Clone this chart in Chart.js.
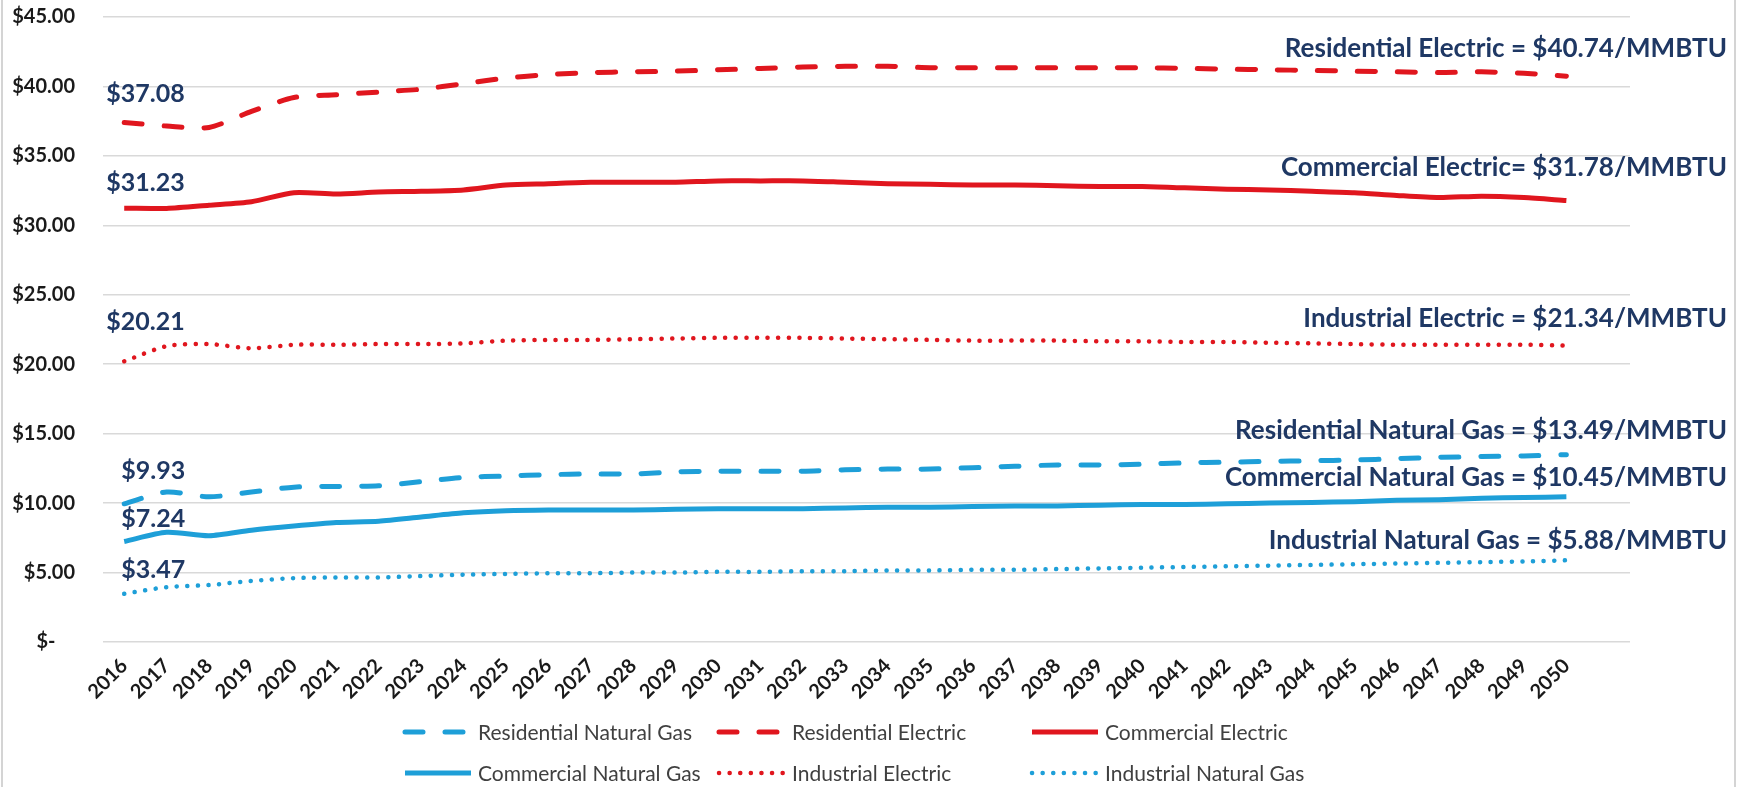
<!DOCTYPE html>
<html>
<head>
<meta charset="utf-8">
<script src="https://cdn.jsdelivr.net/npm/chart.js@4.4.0/dist/chart.umd.min.js"></script>
<style>
  html, body { margin: 0; padding: 0; background: #fff; }
</style>
</head>
<body>
<canvas id="priceChart" width="1748" height="787"></canvas>
<script>
// years on the category axis (last blank slot mirrors the empty space Excel left)
const years = ['2016', '2017', '2018', '2019', '2020', '2021', '2022', '2023', '2024', '2025',
  '2026', '2027', '2028', '2029', '2030', '2031', '2032', '2033', '2034', '2035',
  '2036', '2037', '2038', '2039', '2040', '2041', '2042', '2043', '2044', '2045',
  '2046', '2047', '2048', '2049', '2050', ''];

// $/MMBTU
const residentialGas = [9.95, 10.8, 10.45, 10.8, 11.15, 11.2, 11.25, 11.55, 11.85, 11.95,
  12.05, 12.1, 12.1, 12.25, 12.3, 12.3, 12.3, 12.4, 12.45, 12.45,
  12.55, 12.65, 12.75, 12.75, 12.8, 12.9, 12.95, 13.0, 13.05, 13.1,
  13.2, 13.3, 13.35, 13.4, 13.49];
const residentialElectric = [37.4, 37.15, 37.05, 38.2, 39.2, 39.4, 39.6, 39.8, 40.2, 40.6,
  40.85, 41.0, 41.05, 41.1, 41.2, 41.3, 41.4, 41.45, 41.45, 41.35,
  41.35, 41.35, 41.35, 41.35, 41.35, 41.3, 41.25, 41.2, 41.15, 41.1,
  41.05, 41.0, 41.05, 40.95, 40.74];
const commercialElectric = [31.23, 31.22, 31.45, 31.7, 32.35, 32.25, 32.4, 32.45, 32.55, 32.9,
  33.0, 33.1, 33.1, 33.1, 33.2, 33.2, 33.2, 33.1, 33.0, 32.95,
  32.9, 32.9, 32.85, 32.8, 32.8, 32.7, 32.6, 32.55, 32.45, 32.35,
  32.15, 32.0, 32.1, 32.0, 31.78];
const commercialGas = [7.24, 7.9, 7.65, 8.05, 8.35, 8.6, 8.7, 9.0, 9.3, 9.45,
  9.5, 9.5, 9.5, 9.55, 9.6, 9.6, 9.6, 9.65, 9.7, 9.7,
  9.75, 9.8, 9.8, 9.85, 9.9, 9.9, 9.95, 10.0, 10.05, 10.1,
  10.2, 10.25, 10.35, 10.4, 10.45];
const industrialElectric = [20.21, 21.3, 21.45, 21.15, 21.4, 21.4, 21.45, 21.45, 21.5, 21.7,
  21.75, 21.75, 21.8, 21.85, 21.9, 21.9, 21.9, 21.85, 21.8, 21.75,
  21.7, 21.7, 21.7, 21.65, 21.65, 21.6, 21.6, 21.55, 21.5, 21.45,
  21.4, 21.4, 21.4, 21.4, 21.34];
const industrialGas = [3.47, 3.95, 4.1, 4.4, 4.6, 4.65, 4.65, 4.75, 4.85, 4.9,
  4.95, 4.95, 5.0, 5.0, 5.05, 5.05, 5.1, 5.1, 5.15, 5.15,
  5.2, 5.2, 5.25, 5.3, 5.35, 5.4, 5.45, 5.5, 5.55, 5.6,
  5.65, 5.7, 5.75, 5.8, 5.88];

const yTicks = [0, 5, 10, 15, 20, 25, 30, 35, 40, 45];

const startLabels = ['$9.93', '$37.08', '$31.23', '$7.24', '$20.21', '$3.47'];
const endLabels = [
  'Residential Natural Gas = $13.49/MMBTU',
  'Residential Electric = $40.74/MMBTU',
  'Commercial Electric= $31.78/MMBTU',
  'Commercial Natural Gas = $10.45/MMBTU',
  'Industrial Electric = $21.34/MMBTU',
  'Industrial Natural Gas = $5.88/MMBTU'
];

const RED = '#E0161E';
const BLUE = '#1E9FD8';
const NAVY = '#1F3864';
const FONT = 'Lato, "Open Sans", sans-serif';

const DASH = [18, 22];
const DOT = [0.1, 10.5];

function series(label, data, color, dash, startShift, endShift, startDx) {
  return {
    label: label,
    data: data,
    borderColor: color,
    backgroundColor: color,
    borderWidth: dash === DOT ? 4.5 : 5,
    borderDash: dash || [],
    borderCapStyle: dash ? 'round' : 'butt',
    pointRadius: 0,
    tension: 0.25,
    startShift: startShift,
    endShift: endShift,
    startDx: startDx
  };
}

// start / end value labels next to each line
const lineLabels = {
  id: 'lineLabels',
  afterDatasetsDraw(chart) {
    const ctx = chart.ctx;
    ctx.save();
    ctx.fillStyle = NAVY;
    ctx.textBaseline = 'middle';
    chart.data.datasets.forEach((ds, i) => {
      const pts = chart.getDatasetMeta(i).data;
      const first = pts[0];
      const last = pts[ds.data.length - 1];
      ctx.font = 'bold 25px ' + FONT;
      ctx.textAlign = 'left';
      ctx.fillText(startLabels[i], first.x + ds.startDx, first.y - ds.startShift);
      ctx.font = 'bold 26px ' + FONT;
      ctx.textAlign = 'right';
      ctx.fillText(endLabels[i], chart.width - 21, last.y - ds.endShift);
    });
    ctx.restore();
  }
};

// two-row legend laid out like the Excel one
const gridLegend = {
  id: 'gridLegend',
  afterDraw(chart) {
    const ctx = chart.ctx;
    const cols = [403, 717, 1030];
    const rows = [chart.height - 55, chart.height - 14];
    ctx.save();
    ctx.font = '21px ' + FONT;
    ctx.textBaseline = 'middle';
    ctx.textAlign = 'left';
    chart.data.datasets.forEach((ds, i) => {
      const x = cols[i % 3];
      const y = rows[Math.floor(i / 3)];
      ctx.strokeStyle = ds.borderColor;
      ctx.lineWidth = ds.borderWidth;
      ctx.lineCap = ds.borderCapStyle;
      ctx.setLineDash(ds.borderDash);
      ctx.beginPath();
      ctx.moveTo(x + 2, y);
      ctx.lineTo(x + 68, y);
      ctx.stroke();
      ctx.setLineDash([]);
      ctx.fillStyle = '#404040';
      ctx.fillText(ds.label, x + 75, y + 1);
    });
    ctx.restore();
  }
};

const frame = {
  id: 'frame',
  beforeDraw(chart) {
    const ctx = chart.ctx;
    ctx.save();
    ctx.fillStyle = '#fff';
    ctx.fillRect(0, 0, chart.width, chart.height);
    ctx.strokeStyle = '#d4d4d4';
    ctx.lineWidth = 2;
    ctx.beginPath();
    ctx.moveTo(2, 0); ctx.lineTo(2, chart.height);
    ctx.moveTo(chart.width - 13, 0); ctx.lineTo(chart.width - 13, chart.height);
    ctx.stroke();
    ctx.restore();
  }
};

new Chart(document.getElementById('priceChart').getContext('2d'), {
  type: 'line',
  data: {
    labels: years,
    datasets: [
      series('Residential Natural Gas', residentialGas, BLUE, DASH, 33, 24, -3),
      series('Residential Electric', residentialElectric, RED, DASH, 29, 28, -18),
      series('Commercial Electric', commercialElectric, RED, null, 25, 33, -18),
      series('Commercial Natural Gas', commercialGas, BLUE, null, 23, 19, -3),
      series('Industrial Electric', industrialElectric, RED, DOT, 39, 27, -18),
      series('Industrial Natural Gas', industrialGas, BLUE, DOT, 24, 20, -3)
    ]
  },
  options: {
    responsive: false,
    animation: false,
    layout: { padding: { top: 17, right: 118, left: 0, bottom: 0 } },
    plugins: {
      legend: { display: false },
      tooltip: { enabled: false }
    },
    scales: {
      x: {
        offset: true,
        grid: { display: false, drawTicks: false },
        border: { display: false },
        ticks: {
          autoSkip: false,
          minRotation: 45,
          maxRotation: 45,
          padding: 12,
          color: '#1a1a1a',
          font: { family: FONT, size: 20, weight: 'bold' }
        },
        afterFit(scale) {
          scale.height = 145;
          scale.paddingTop = 0;
          scale.paddingBottom = 0;
          scale.paddingLeft = 0;
          scale.paddingRight = 0;
        }
      },
      y: {
        min: 0,
        max: 45,
        afterBuildTicks(scale) { scale.ticks = yTicks.map(v => ({ value: v })); },
        grid: { color: '#d9d9d9', lineWidth: 1.5, drawTicks: false },
        border: { display: false },
        ticks: {
          padding: 28,
          color: '#1a1a1a',
          font: { family: FONT, size: 20, weight: 'bold' },
          callback: v => v === 0 ? '$-    ' : '$' + v.toFixed(2)
        },
        afterFit(scale) {
          scale.width = 103;
          scale.paddingTop = 0;
          scale.paddingBottom = 0;
        }
      }
    }
  },
  plugins: [frame, lineLabels, gridLegend]
});
</script>
</body>
</html>
